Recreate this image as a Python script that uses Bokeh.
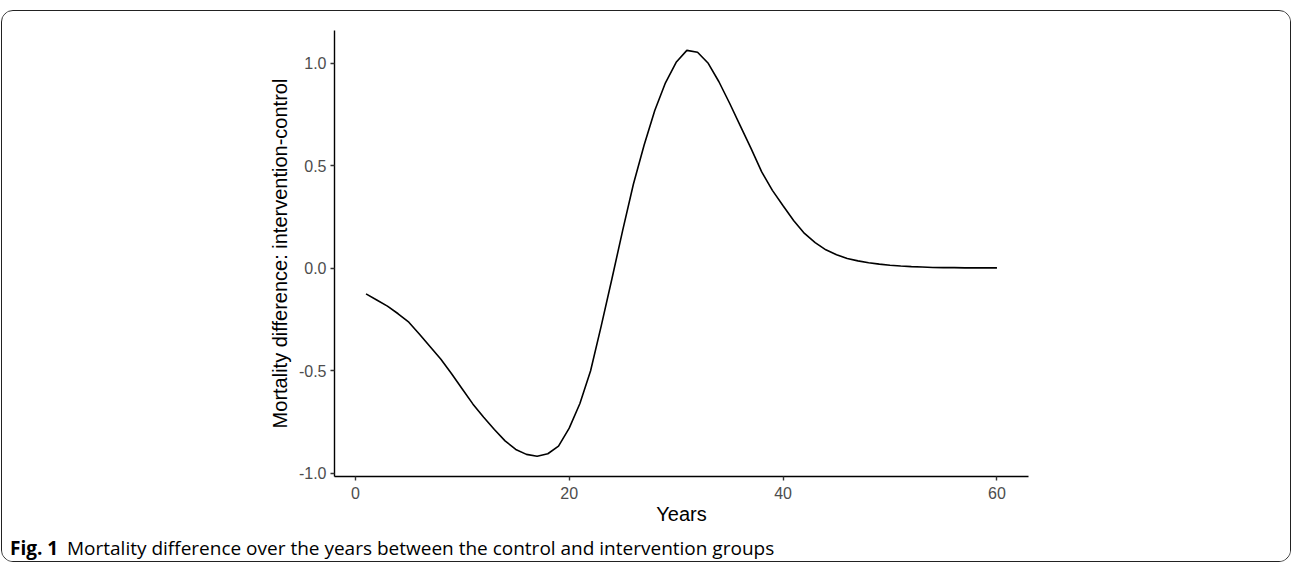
from bokeh.plotting import figure
from bokeh.layouts import column
from bokeh.models import FixedTicker, PrintfTickFormatter, Range1d, Label
from bokeh.embed import file_html
from bokeh.resources import INLINE

years = list(range(1, 61))
mortality_diff = [
    -0.125, -0.155, -0.185, -0.222, -0.263, -0.322, -0.383, -0.444, -0.515, -0.589,
    -0.663, -0.727, -0.787, -0.842, -0.884, -0.908, -0.917, -0.905, -0.868, -0.780,
    -0.660, -0.500, -0.280, -0.050, 0.185, 0.410, 0.600, 0.770, 0.905, 1.005,
    1.063, 1.054, 1.000, 0.910, 0.805, 0.695, 0.585, 0.470, 0.380, 0.305,
    0.232, 0.170, 0.125, 0.090, 0.066, 0.048, 0.036, 0.027, 0.020, 0.015,
    0.011, 0.008, 0.006, 0.004, 0.003, 0.003, 0.002, 0.002, 0.002, 0.002,
]
x_ticks = [0, 20, 40, 60]
y_ticks = [-1.0, -0.5, 0.0, 0.5, 1.0]
x_title = "Years"
y_title = "Mortality difference: intervention-control"
caption_bold = "Fig. 1"
caption_text = "Mortality difference over the years between the control and intervention groups"

W = 1288
H_MAIN, H_CAP = 517, 33

p = figure(width=W, height=H_MAIN, output_backend="svg", toolbar_location=None,
           x_range=Range1d(-1.95, 62.95), y_range=Range1d(-1.016, 1.16),
           min_border_left=332, min_border_right=262,
           min_border_top=19, min_border_bottom=H_MAIN - 465)
p.frame_align = False
p.outline_line_color = None
p.xgrid.visible = False
p.ygrid.visible = False
p.background_fill_color = "white"
p.border_fill_color = "white"

p.line(years, mortality_diff, line_color="black", line_width=1.6)

for ax in (p.xaxis[0], p.yaxis[0]):
    ax.axis_line_color = "black"
    ax.axis_line_width = 1.4
    ax.major_tick_line_color = "#333333"
    ax.major_tick_line_width = 1.4
    ax.major_tick_out = 4
    ax.major_tick_in = 0
    ax.minor_tick_line_color = None
    ax.major_label_text_color = "#4D4D4D"
    ax.major_label_text_font = "Liberation Sans"
    ax.major_label_text_font_size = "16px"
    ax.axis_label_text_font = "Liberation Sans"
    ax.axis_label_text_font_style = "normal"
    ax.axis_label_text_font_size = "20px"
    ax.axis_label_text_color = "black"

p.xaxis[0].ticker = FixedTicker(ticks=x_ticks)
p.yaxis[0].ticker = FixedTicker(ticks=y_ticks)
p.xaxis[0].formatter = PrintfTickFormatter(format="%d")
p.yaxis[0].formatter = PrintfTickFormatter(format="%.1f")
p.xaxis[0].axis_label = x_title
p.yaxis[0].axis_label = y_title
p.xaxis[0].major_label_standoff = 6
p.xaxis[0].axis_label_standoff = 1
p.yaxis[0].major_label_standoff = 4
p.yaxis[0].axis_label_standoff = 5

cap = figure(width=W, height=H_CAP, output_backend="svg", toolbar_location=None,
             x_range=Range1d(0, W), y_range=Range1d(H_CAP, 0),
             min_border=0, min_border_left=0, min_border_right=0,
             min_border_top=0, min_border_bottom=0)
cap.frame_align = False
cap.axis.visible = False
cap.grid.visible = False
cap.outline_line_color = None
cap.background_fill_color = "white"
cap.border_fill_color = "white"
cap.add_layout(Label(x=7.5, y=19.5, text=caption_bold,
                     text_font="Open Sans", text_font_style="bold", text_font_size="19px",
                     text_baseline="alphabetic", text_color="black"))
cap.add_layout(Label(x=64.5, y=19.5, text=caption_text,
                     text_font="Open Sans", text_font_size="19px",
                     text_baseline="alphabetic", text_color="black"))

layout = column(p, cap, spacing=0)
layout.margin = (10, 0, 0, 1)
layout.styles = {"border": "1.5px solid #222222", "border-radius": "12px",
                 "overflow": "hidden"}

open("out.html", "w").write(file_html(layout, INLINE))
